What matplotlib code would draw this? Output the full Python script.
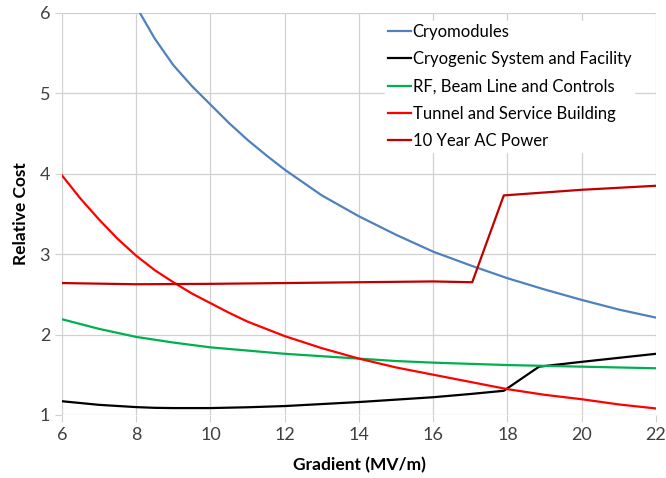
import matplotlib.pyplot as plt

# Daten
x_cryomod = [8.1, 8.5, 9, 9.5, 10, 10.5, 11, 11.5, 12, 13, 14, 15, 16, 17, 18, 19, 20, 21, 22]
cryomodules = [6.0, 5.68, 5.35, 5.09, 4.86, 4.63, 4.42, 4.23, 4.05, 3.73, 3.47, 3.24, 3.03, 2.86, 2.70, 2.56, 2.43, 2.31, 2.21]

x_cryo = [6, 7, 8, 8.5, 9, 10, 11, 12, 13, 14, 15, 16, 17, 17.9, 18.85, 20, 21, 22]
cryogenic = [1.17, 1.125, 1.097, 1.088, 1.085, 1.085, 1.095, 1.11, 1.135, 1.16, 1.19, 1.22, 1.26, 1.30, 1.60, 1.66, 1.71, 1.76]

x_rf = [6, 6.5, 7, 7.5, 8, 9, 10, 11, 12, 13, 14, 15, 16, 17, 18, 19, 20, 21, 22]
rf_beam = [2.19, 2.13, 2.07, 2.02, 1.97, 1.90, 1.84, 1.80, 1.76, 1.73, 1.70, 1.67, 1.65, 1.635, 1.62, 1.61, 1.60, 1.59, 1.58]

x_tunnel = [6, 6.5, 7, 7.5, 8, 8.5, 9, 9.5, 10, 10.5, 11, 11.5, 12, 13, 14, 15, 16, 17, 18, 19, 20, 21, 22]
tunnel = [3.98, 3.69, 3.43, 3.19, 2.98, 2.80, 2.65, 2.51, 2.39, 2.27, 2.16, 2.07, 1.98, 1.83, 1.70, 1.59, 1.50, 1.41, 1.32, 1.25, 1.195, 1.13, 1.08]

x_power = [6, 8, 10, 12, 14, 16, 17.05, 17.9, 20, 22]
ac_power = [2.64, 2.625, 2.63, 2.64, 2.65, 2.66, 2.65, 3.73, 3.80, 3.85]

labels = ["Cryomodules", "Cryogenic System and Facility", "RF, Beam Line and Controls",
          "Tunnel and Service Building", "10 Year AC Power"]
colors = ["#4F81BD", "#000000", "#00B050", "#FF0000", "#C00000"]

plt.rcParams['font.family'] = ['Lato', 'DejaVu Sans']

fig = plt.figure(figsize=(6.66, 4.78), dpi=100)
ax = fig.add_axes([0.093, 0.132, 0.892, 0.841])

series = [(x_cryomod, cryomodules), (x_cryo, cryogenic), (x_rf, rf_beam),
          (x_tunnel, tunnel), (x_power, ac_power)]
for (xs, ys), lab, col in zip(series, labels, colors):
    ax.plot(xs, ys, color=col, lw=1.6, label=lab, solid_joinstyle='round')

ax.set_xlim(6, 22)
ax.set_ylim(1, 6)
ax.set_xticks(range(6, 23, 2))
ax.set_yticks(range(1, 7))
ax.grid(True, color="#d0d0d0", lw=0.9)
ax.set_axisbelow(True)
for s in ax.spines.values():
    s.set_visible(False)
ax.tick_params(axis='both', length=5, color="#d0d0d0", labelsize=13, labelcolor="#404040")

ax.set_xlabel("Gradient (MV/m)", fontsize=12.5, fontweight='bold', labelpad=10)
ax.set_ylabel("Relative Cost", fontsize=12.5, fontweight='bold', labelpad=8)

leg = ax.legend(loc='upper left', bbox_to_anchor=(0.53, 1.0), fontsize=12,
                frameon=True, framealpha=1, edgecolor='white', fancybox=False,
                handlelength=1.4, handletextpad=0.1, labelspacing=0.68, borderpad=0.15)

fig.savefig("out.png", dpi=100)
